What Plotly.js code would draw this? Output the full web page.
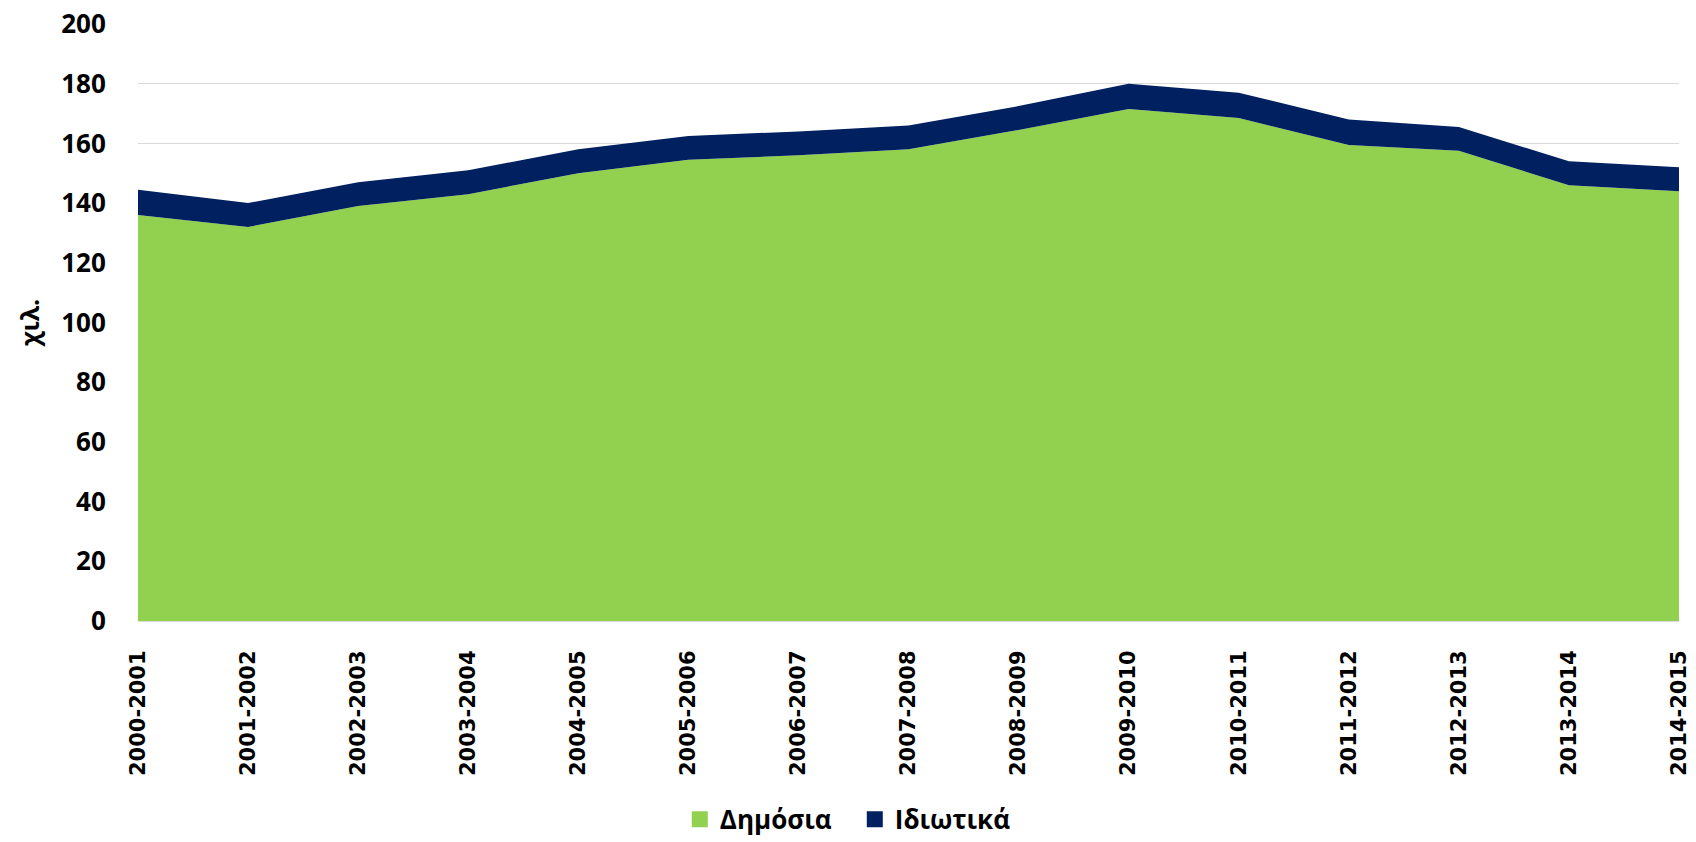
<!DOCTYPE html>
<html>
<head>
<meta charset="utf-8">
<script src="https://cdn.plot.ly/plotly-3.0.1.min.js"></script>
<style>
  html, body { margin: 0; padding: 0; background: #fff; }
  #chart { width: 1696px; height: 842px; }
</style>
</head>
<body>
<div id="chart"></div>
<script>
// school years
const years = [
  "2000-2001", "2001-2002", "2002-2003", "2003-2004", "2004-2005",
  "2005-2006", "2006-2007", "2007-2008", "2008-2009", "2009-2010",
  "2010-2011", "2011-2012", "2012-2013", "2013-2014", "2014-2015"
];

// thousands
const publicVals  = [136, 132, 139, 143, 150, 154.5, 156, 158, 164.5, 171.5, 168.5, 159.5, 157.5, 146, 144];
const privateVals = [8.5, 8, 8, 8, 8, 8, 8, 8, 8, 8.5, 8.5, 8.5, 8, 8, 8];

const seriesNames  = ["Δημόσια", "Ιδιωτικά"];
const seriesColors = ["#92D050", "#002060"];

const traces = [publicVals, privateVals].map((vals, i) => ({
  x: years,
  y: vals,
  name: seriesNames[i],
  type: "scatter",
  mode: "lines",
  stackgroup: "one",
  line: { width: 0, color: seriesColors[i] },
  fillcolor: seriesColors[i],
  showlegend: false
}));

// square legend keys like the original
seriesNames.forEach((n, i) => {
  traces.push({
    x: [null],
    y: [null],
    name: n,
    type: "scatter",
    mode: "markers",
    marker: { symbol: "square", size: 16, color: seriesColors[i], line: { width: 0 } },
    showlegend: true
  });
});

const layout = {
  width: 1696,
  height: 842,
  margin: { l: 138, r: 17, t: 24, b: 221 },
  paper_bgcolor: "#fff",
  plot_bgcolor: "#fff",
  font: { family: "DejaVu Sans", color: "#000", size: 22 },
  showlegend: true,
  legend: {
    orientation: "h",
    xref: "container",
    yref: "container",
    x: 0.504,
    xanchor: "center",
    y: 0.027,
    yanchor: "middle",
    font: { family: "Open Sans", size: 26, weight: "bold" },
    entrywidth: 130,
    traceorder: "normal"
  },
  xaxis: {
    type: "category",
    range: [0, 14],
    tickangle: -90,
    tickfont: { family: "DejaVu Sans", size: 21, weight: "bold" },
    ticks: "outside",
    ticklen: 20,
    tickcolor: "rgba(0,0,0,0)",
    showgrid: false,
    showline: true,
    linecolor: "#D9D9D9",
    linewidth: 1,
    fixedrange: true
  },
  yaxis: {
    range: [0, 200],
    dtick: 20,
    tickfont: { family: "Open Sans", size: 26, weight: "bold" },
    ticks: "outside",
    ticklen: 26,
    tickcolor: "rgba(0,0,0,0)",
    showgrid: true,
    gridcolor: "#D9D9D9",
    gridwidth: 1,
    zeroline: false,
    showline: false,
    title: {
      text: "χιλ.",
      font: { family: "Open Sans", size: 25, weight: "bold" },
      standoff: 14
    },
    automargin: false,
    fixedrange: true
  }
};

Plotly.newPlot("chart", traces, layout, { displayModeBar: false, staticPlot: true });
</script>
</body>
</html>
